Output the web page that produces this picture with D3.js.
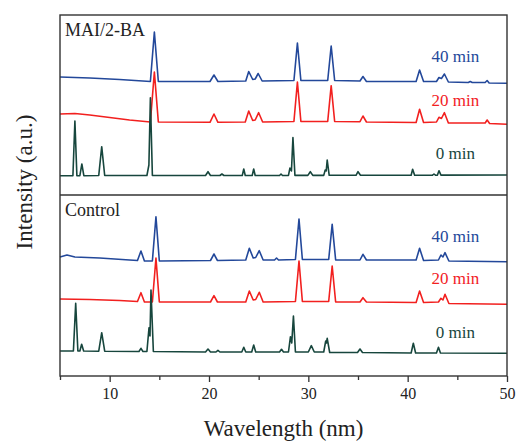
<!DOCTYPE html>
<html>
<head>
<meta charset="utf-8">
<script src="https://cdn.jsdelivr.net/npm/d3@7"></script>
<style>
  html, body { margin: 0; padding: 0; background: #fff; }
  svg { display: block; }
  svg text { font-family: "Liberation Serif", "Times New Roman", serif; }
</style>
</head>
<body>
<svg id="chart" width="520" height="445"></svg>
<script>
// Spectra as [wavelength (nm), intensity (a.u., stacked offset included)]
const maiT40 = [[5,118],[8,117],[11,115.5],[14.1,113.5],[14.5,163],[14.9,113.5],[20.1,113.5],[20.5,120],[20.9,113.5],[23.7,114],[24.0,123.5],[24.4,115.5],[24.65,116],[24.95,121.5],[25.35,114],[28.55,114.5],[28.9,152],[29.25,114.5],[31.95,114.5],[32.3,149],[32.65,114.5],[35.2,114],[35.5,118.5],[35.85,113.5],[40.85,113.5],[41.2,125],[41.6,113.5],[42.9,113.5],[43.15,117.5],[43.4,116.5],[43.7,121],[44.1,113],[46.1,112.5],[46.3,113.5],[46.5,112.5],[47.8,112.5],[48.0,114.5],[48.2,112],[50,111.7]];
const maiT20 = [[5,81],[6.5,81.5],[8,80],[10,77.5],[12,75],[14.1,73],[14.5,123],[14.9,73],[20.1,72.7],[20.5,81],[20.9,72.7],[23.65,73],[24.0,84],[24.4,74.5],[24.65,75],[25.0,82.3],[25.4,73],[28.55,73.5],[28.9,113],[29.25,73.5],[31.95,73.5],[32.3,109.3],[32.65,73.5],[35.2,73.3],[35.5,79],[35.85,73],[40.85,72.5],[41.2,85.7],[41.6,72.5],[42.9,73],[43.15,77.7],[43.4,76.5],[43.7,82.3],[44.1,72],[47.8,72],[48.0,75],[48.25,71.5],[50,70.7]];
const maiT0 = [[5,19.3],[6.3,19.3],[6.5,74],[6.7,19.3],[7.0,19.3],[7.2,31],[7.4,19.3],[8.9,19.5],[9.2,48.3],[9.5,19.5],[13.75,19.5],[13.95,30],[14.1,97.3],[14.3,19.5],[19.65,19.5],[19.9,23.3],[20.15,19.5],[21.1,19.5],[21.3,21],[21.5,19.5],[23.35,19.5],[23.5,26],[23.65,19.5],[24.35,19.5],[24.5,26],[24.65,19.5],[27.1,19.5],[27.25,21],[27.4,19.5],[28.0,19.6],[28.15,27],[28.3,24],[28.45,57.5],[28.65,19.6],[29.95,19.6],[30.2,23.3],[30.45,19.6],[31.55,19.6],[31.7,25],[31.8,24],[31.9,35],[32.1,19.7],[34.8,19.7],[35.0,23.3],[35.25,19.7],[40.35,19.8],[40.5,25.7],[40.7,19.8],[42.5,19.8],[42.65,21],[42.8,19.8],[43.0,19.9],[43.15,24.3],[43.35,19.9],[50,20]];

const ctrlT40 = [[5,119],[5.7,121],[6.5,119],[9,118],[12,116],[12.8,115.5],[13.15,125],[13.5,115],[14.3,115],[14.66,159.3],[15.0,115],[20.15,115.5],[20.5,122],[20.85,115.5],[23.7,116],[24.06,127.7],[24.45,118],[24.7,118.5],[25.06,125.3],[25.45,116],[26.6,116],[26.8,118],[27.0,116],[28.7,116.5],[29.06,157],[29.4,116.5],[32.05,116.5],[32.4,151.7],[32.75,116],[35.2,116],[35.5,121.7],[35.85,116],[40.85,116],[41.2,127.7],[41.6,115.5],[43.1,116],[43.35,121],[43.55,119],[43.76,123.3],[44.15,115],[50,114.3]];
const ctrlT20 = [[5,77],[8,76.5],[11,75.5],[12.8,74.5],[13.15,83.3],[13.5,74],[14.3,74],[14.66,118],[15.0,74],[20.15,74],[20.5,80.3],[20.85,74],[23.7,74],[24.06,85],[24.45,76],[24.7,76.5],[25.06,83.7],[25.45,74],[28.7,74.5],[29.06,115],[29.4,74.5],[32.05,74.5],[32.4,110],[32.75,74],[35.2,74],[35.5,78.3],[35.85,74],[40.85,73.5],[41.2,85],[41.6,73.5],[43.1,74],[43.35,77.7],[43.55,76],[43.76,81.7],[44.15,72.5],[50,71.7]];
const ctrlT0 = [[5,25],[6.35,25],[6.58,72.7],[6.8,25],[7.0,25],[7.18,31.7],[7.38,25],[8.9,24.8],[9.2,43.3],[9.5,24.8],[12.95,24.5],[13.15,27.7],[13.35,24.5],[13.75,24.5],[13.96,48.3],[14.06,40],[14.16,86],[14.4,24.5],[19.65,24],[19.9,27],[20.15,24],[20.7,24],[20.9,25.7],[21.1,24],[23.3,24],[23.5,28.7],[23.7,24],[24.3,24],[24.5,31],[24.7,24],[27.1,24],[27.3,26.7],[27.5,24],[28.0,24],[28.2,39.3],[28.33,33],[28.5,60],[28.7,24],[30.0,24],[30.3,30.3],[30.6,24],[31.55,24],[31.75,35],[31.82,33],[31.9,37.7],[32.15,23.5],[34.95,23.5],[35.2,27],[35.45,23.5],[40.35,23],[40.57,32.7],[40.8,23],[42.9,23],[43.1,28.7],[43.3,23],[50,22.7]];

// Curve labels and the intensity at which each label sits
const seriesNames = ["40 min", "20 min", "0 min"];
const seriesColors = ["#23489a", "#f2201f", "#17463d"];
const maiLabelY = [138.5, 95, 41.5];
const ctrlLabelY = [140, 97.5, 43.5];
const labelX = 44.8;

const panelTitles = ["MAI/2-BA", "Control"];
const majorTicks = [10, 20, 30, 40, 50];
const minorTicks = [5, 15, 25, 35, 45];

const serif = "'Liberation Serif', 'Times New Roman', serif";
const svg = d3.select("#chart");
const plotL = 60, plotR = 507, plotT = 15, plotM = 195, plotB = 376;

const x = d3.scaleLinear().domain([5, 50]).range([plotL, plotR]);
const yTop = d3.scaleLinear().domain([0, 180]).range([plotM, plotT]);
const yBot = d3.scaleLinear().domain([0, 181]).range([plotB, plotM]);

const panels = [
  { title: panelTitles[0], y: yTop, series: [maiT40, maiT20, maiT0], labelY: maiLabelY, y0: plotT },
  { title: panelTitles[1], y: yBot, series: [ctrlT40, ctrlT20, ctrlT0], labelY: ctrlLabelY, y0: plotM }
];

panels.forEach(p => {
  const g = svg.append("g");
  const line = d3.line().x(d => x(d[0])).y(d => p.y(d[1]));
  p.series.forEach((s, i) => {
    g.append("path")
      .datum(s)
      .attr("fill", "none")
      .attr("stroke", seriesColors[i])
      .attr("stroke-width", 1.6)
      .attr("stroke-linejoin", "round")
      .attr("d", line);
    g.append("text")
      .attr("x", x(labelX))
      .attr("y", p.y(p.labelY[i]))
      .attr("text-anchor", "middle")
      .attr("dominant-baseline", "central")
      .attr("font-family", serif)
      .attr("fill", seriesColors[i])
      .attr("font-size", 17)
      .text(seriesNames[i]);
  });
  g.append("text")
    .attr("x", plotL + 5)
    .attr("y", p.y0 + 21)
    .attr("font-family", serif)
    .attr("fill", "#222")
    .attr("font-size", 18)
    .text(p.title);
});

// Frame and panel divider
svg.append("rect")
  .attr("x", plotL).attr("y", plotT)
  .attr("width", plotR - plotL).attr("height", plotB - plotT)
  .attr("fill", "none").attr("stroke", "#333").attr("stroke-width", 1.4);
svg.append("line")
  .attr("x1", plotL).attr("x2", plotR).attr("y1", plotM).attr("y2", plotM)
  .attr("stroke", "#333").attr("stroke-width", 1.4);

// Bottom axis: labelled major ticks and short minor ticks
const axMajor = svg.append("g")
  .attr("transform", `translate(0,${plotB})`)
  .call(d3.axisBottom(x).tickValues(majorTicks).tickSize(6).tickPadding(6).tickFormat(d3.format("d")))
  .attr("font-family", serif);
axMajor.select(".domain").remove();
axMajor.selectAll("line").attr("stroke", "#333").attr("stroke-width", 1.3);
axMajor.selectAll("text").attr("font-size", 16).attr("fill", "#222");

const axMinor = svg.append("g")
  .attr("transform", `translate(0,${plotB})`)
  .call(d3.axisBottom(x).tickValues(minorTicks).tickSize(4).tickFormat(""));
axMinor.select(".domain").remove();
axMinor.selectAll("line").attr("stroke", "#333").attr("stroke-width", 1.3);

// Axis titles
svg.append("text")
  .attr("x", (plotL + plotR) / 2)
  .attr("y", 436)
  .attr("text-anchor", "middle")
  .attr("font-family", serif)
  .attr("font-size", 23)
  .attr("fill", "#222")
  .text("Wavelength (nm)");
svg.append("text")
  .attr("transform", "translate(32,182) rotate(-90)")
  .attr("text-anchor", "middle")
  .attr("font-family", serif)
  .attr("font-size", 23)
  .attr("fill", "#222")
  .text("Intensity (a.u.)");
</script>
</body>
</html>
